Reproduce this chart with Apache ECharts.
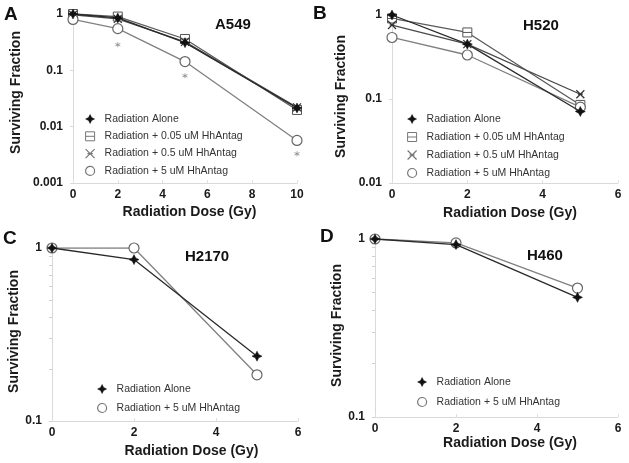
<!DOCTYPE html>
<html>
<head>
<meta charset="utf-8">
<script src="https://cdn.jsdelivr.net/npm/echarts@6/dist/echarts.min.js"></script>
<style>
html,body{margin:0;padding:0;background:#fff;}
#chart{width:629px;height:463px;}
</style>
</head>
<body>
<div id="chart"></div>
<script>
// ---------- data ----------
const doseA = [0, 2, 5, 10];
const doseBCD = [0, 2, 5];

const A_alone = [1.0, 0.85, 0.31, 0.0215];
const A_005   = [1.0, 0.90, 0.36, 0.0198];
const A_05    = [0.97, 0.82, 0.32, 0.022];
const A_5     = [0.80, 0.55, 0.143, 0.0057];
const A_sigDose  = [2, 5, 10];
const A_sigLevel = [0.285, 0.080, 0.0033];

const B_alone = [1.0, 0.45, 0.071];
const B_005   = [0.91, 0.62, 0.085];
const B_05    = [0.76, 0.45, 0.114];
const B_5     = [0.54, 0.334, 0.080];

const C_alone = [1.0, 0.857, 0.237];
const C_5     = [1.0, 1.0, 0.185];

const D_alone = [1.0, 0.93, 0.47];
const D_5     = [1.0, 0.95, 0.53];

const panelLabels = ['A', 'B', 'C', 'D'];
const cellLines = ['A549', 'H520', 'H2170', 'H460'];
const xTitle = 'Radiation Dose (Gy)';
const yTitle = 'Surviving Fraction';
const nAlone = 'Radiation Alone';
const n005 = 'Radiation + 0.05 uM HhAntag';
const n05 = 'Radiation + 0.5 uM HhAntag';
const n5 = 'Radiation + 5 uM HhAntag';
const minorTicksCD = [0.1, 0.2, 0.3, 0.4, 0.5, 0.6, 0.7, 0.8, 0.9, 1];

// ---------- styles ----------
const STAR = 'path://M5,0L6.7,3.3L10,5L6.7,6.7L5,10L3.3,6.7L0,5L3.3,3.3Z';
const SQUARE = 'path://M0,0H10V10H0Z M0,5H10';
const XMARK = 'path://M0,0L10,10M10,0L0,10M2,5H8';
const ASTER = 'path://M5,0V10M0.7,2.5L9.3,7.5M9.3,2.5L0.7,7.5';
const FONT = 'Liberation Sans, Arial, sans-serif';

const styles = {};
styles[nAlone] = {symbol: STAR, size: 10, line: '#2a2a2a', item: {color: '#111', borderColor: '#111', borderWidth: 0.5}};
styles[n005] = {symbol: SQUARE, size: 9, line: '#5a5a5a', item: {color: '#fff', borderColor: '#555', borderWidth: 1}};
styles[n05] = {symbol: XMARK, size: 8, line: '#4a4a4a', item: {color: 'transparent', borderColor: '#333', borderWidth: 1.2}};
styles[n5] = {symbol: 'circle', size: 10, line: '#808080', item: {color: '#fff', borderColor: '#666', borderWidth: 1.2}};

function mk(name, xs, ys, idx) {
  const s = styles[name];
  return {
    type: 'line', name: name, xAxisIndex: idx, yAxisIndex: idx,
    data: xs.map((x, i) => [x, ys[i]]),
    symbol: s.symbol, symbolSize: s.size, showSymbol: true,
    lineStyle: {color: s.line, width: 1.3},
    itemStyle: s.item,
    emphasis: {disabled: true}, animation: false, z: name === nAlone ? 5 : 3
  };
}

// grid geometry: [left, top, width, height]
const grids = [
  [73, 14, 224, 169],
  [392, 15, 226, 168],
  [52, 248, 246, 173],
  [375, 239, 243, 178]
];
const yRanges = [[0.001, 1], [0.01, 1], [0.1, 1], [0.1, 1]];
const xMax = [10, 6, 6, 6];
const yNameGap = [50, 44, 27, 31];
const yNamePad = [[0, 0, 0, 12], [0, 0, 0, 5], [0, 0, 0, 6], [0, 0, 0, 5]];
const xNameGap = [22, 23, 23, 18];
const xNamePad = [[0, 0, 0, 9], [0, 0, 0, 10], [0, 0, 0, 33], [0, 0, 0, 27]];

function fmt(v) { return String(Number(v.toPrecision(3))); }

const option = {
  backgroundColor: '#fff',
  animation: false,
  grid: grids.map(g => ({left: g[0], top: g[1], width: g[2], height: g[3], containLabel: false, outerBoundsMode: 'none'})),
  xAxis: grids.map((g, i) => ({
    type: 'value', gridIndex: i, min: 0, max: xMax[i], interval: 2,
    axisLine: {show: true, lineStyle: {color: '#d9d9d9', width: 1}},
    axisTick: {show: true, inside: true, length: 3, lineStyle: {color: '#e0e0e0'}},
    splitLine: {show: false},
    axisLabel: {color: '#1a1a1a', fontWeight: 'bold', fontSize: 12, fontFamily: FONT, margin: 6},
    name: xTitle, nameLocation: 'middle', nameGap: xNameGap[i],
    nameTextStyle: {color: '#1a1a1a', fontWeight: 'bold', fontSize: 14, fontFamily: FONT, padding: xNamePad[i]}
  })),
  yAxis: grids.map((g, i) => ({
    type: 'log', logBase: 10, gridIndex: i, min: yRanges[i][0], max: yRanges[i][1],
    axisLine: {show: true, lineStyle: {color: '#d9d9d9', width: 1}},
    axisTick: i >= 2
      ? {show: true, length: 3, customValues: minorTicksCD, lineStyle: {color: '#d0d0d0'}}
      : {show: true, length: 3, lineStyle: {color: '#d9d9d9'}},
    splitLine: {show: false},
    minorTick: {show: false},
    axisLabel: {color: '#1a1a1a', fontWeight: 'bold', fontSize: 12, fontFamily: FONT, margin: 10, formatter: fmt},
    name: yTitle, nameLocation: 'middle', nameGap: yNameGap[i], nameRotate: 90,
    nameTextStyle: {color: '#1a1a1a', fontWeight: 'bold', fontSize: 14, fontFamily: FONT, padding: yNamePad[i]}
  })),
  title: [
    {text: panelLabels[0], left: 4, top: 5},
    {text: panelLabels[1], left: 313, top: 4},
    {text: panelLabels[2], left: 3, top: 229},
    {text: panelLabels[3], left: 320, top: 227},
    {text: cellLines[0], left: 215, top: 17, sub: true},
    {text: cellLines[1], left: 523, top: 18, sub: true},
    {text: cellLines[2], left: 185, top: 249, sub: true},
    {text: cellLines[3], left: 527, top: 248, sub: true}
  ].map(t => ({
    text: t.text, left: t.left, top: t.top, padding: 0,
    textStyle: t.sub
      ? {color: '#111', fontWeight: 'bold', fontSize: 15, fontFamily: FONT}
      : {color: '#111', fontWeight: 'bold', fontSize: 19, fontFamily: FONT}
  })),
  legend: [
    {left: 85, top: 113, gap: 5.3, names: [nAlone, n005, n05, n5]},
    {left: 407, top: 113, gap: 6, names: [nAlone, n005, n05, n5]},
    {left: 97, top: 383, gap: 7, names: [nAlone, n5]},
    {left: 417, top: 376, gap: 8, names: [nAlone, n5]}
  ].map(l => ({
    orient: 'vertical', left: l.left, top: l.top, padding: 0,
    itemGap: l.gap, itemWidth: 9, itemHeight: 9, selectedMode: false,
    textStyle: {color: '#333', fontSize: 10.5, fontFamily: FONT, lineHeight: 12, padding: [0, 0, 0, 5]},
    data: l.names.map(n => ({
      name: n, icon: styles[n].symbol,
      itemStyle: Object.assign({}, styles[n].item, {borderColor: styles[n].item.borderColor === '#111' ? '#111' : '#777'})
    }))
  })),
  series: [
    mk(nAlone, doseA, A_alone, 0),
    mk(n005, doseA, A_005, 0),
    mk(n05, doseA, A_05, 0),
    mk(n5, doseA, A_5, 0),
    {
      type: 'scatter', name: 'significance', xAxisIndex: 0, yAxisIndex: 0,
      data: A_sigDose.map((x, i) => [x, A_sigLevel[i]]),
      symbol: ASTER, symbolSize: 5,
      itemStyle: {color: 'transparent', borderColor: '#888', borderWidth: 1},
      emphasis: {disabled: true}, silent: true
    },
    mk(nAlone, doseBCD, B_alone, 1),
    mk(n005, doseBCD, B_005, 1),
    mk(n05, doseBCD, B_05, 1),
    mk(n5, doseBCD, B_5, 1),
    mk(nAlone, doseBCD, C_alone, 2),
    mk(n5, doseBCD, C_5, 2),
    mk(nAlone, doseBCD, D_alone, 3),
    mk(n5, doseBCD, D_5, 3)
  ]
};

const chart = echarts.init(document.getElementById('chart'), null, {renderer: 'canvas'});
chart.setOption(option);
</script>
</body>
</html>
